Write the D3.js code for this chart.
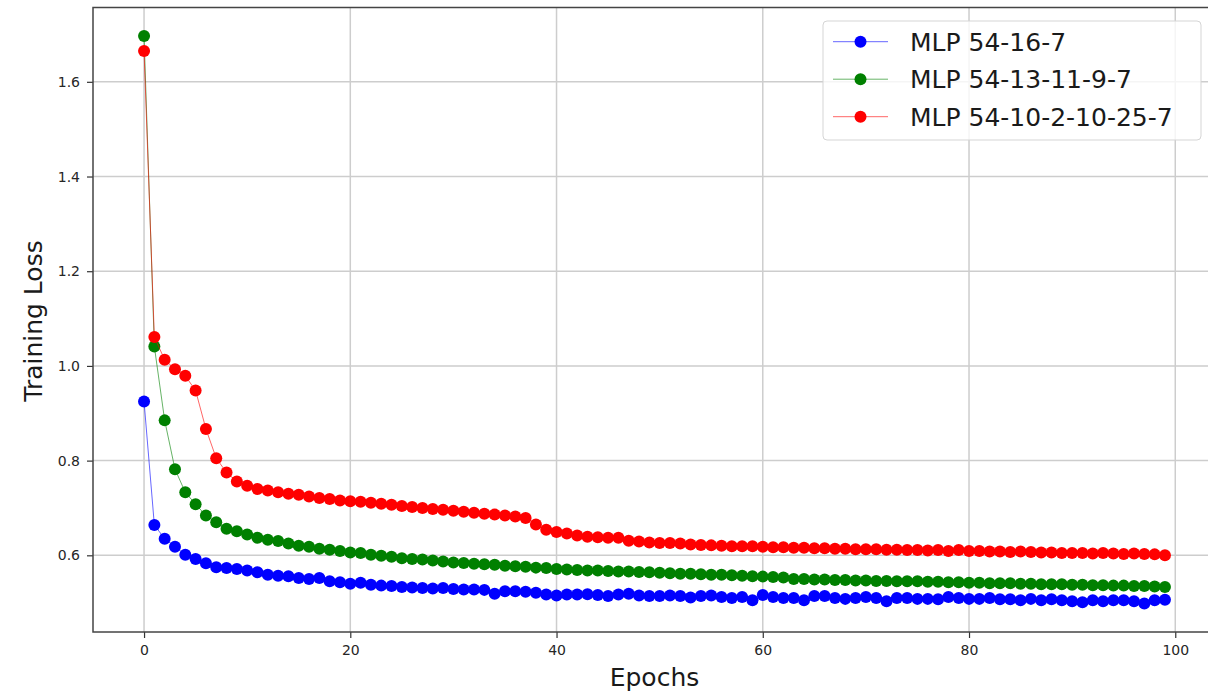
<!DOCTYPE html>
<html>
<head>
<meta charset="utf-8">
<script src="https://cdnjs.cloudflare.com/ajax/libs/d3/7.8.5/d3.min.js"></script>
<style>
    body { margin: 0; background: #fff; }
    svg { display: block; font-family: "DejaVu Sans", sans-serif; }
</style>
</head>
<body>
<div id="chart"></div>
<script>
// series names and colours
var seriesNames = ["MLP 54-16-7", "MLP 54-13-11-9-7", "MLP 54-10-2-10-25-7"];
var seriesColors = ["#0000ff", "#008000", "#ff0000"];

// training loss per epoch (0..99)
var lossSmall = [
    0.925, 0.664, 0.635, 0.618, 0.601, 0.592, 0.583, 0.575, 0.573, 0.571,
    0.568, 0.564, 0.559, 0.557, 0.556, 0.552, 0.550, 0.552, 0.545, 0.543,
    0.540, 0.542, 0.538, 0.536, 0.535, 0.533, 0.532, 0.531, 0.530, 0.531,
    0.529, 0.528, 0.528, 0.527, 0.519, 0.524, 0.524, 0.523, 0.521, 0.517,
    0.515, 0.517, 0.517, 0.518, 0.516, 0.514, 0.517, 0.519, 0.515, 0.514,
    0.514, 0.515, 0.514, 0.511, 0.514, 0.515, 0.512, 0.510, 0.512, 0.505,
    0.516, 0.512, 0.510, 0.510, 0.505, 0.514, 0.514, 0.510, 0.508, 0.510,
    0.512, 0.510, 0.503, 0.510, 0.510, 0.508, 0.508, 0.507, 0.512, 0.510,
    0.508, 0.508, 0.510, 0.507, 0.507, 0.505, 0.508, 0.505, 0.507, 0.505,
    0.503, 0.501, 0.505, 0.503, 0.505, 0.505, 0.503, 0.498, 0.505, 0.506
];
var lossMid = [
    1.697, 1.041, 0.885, 0.782, 0.733, 0.708, 0.684, 0.670, 0.656, 0.651,
    0.644, 0.637, 0.633, 0.630, 0.625, 0.620, 0.618, 0.614, 0.612, 0.609,
    0.606, 0.605, 0.601, 0.599, 0.597, 0.594, 0.592, 0.591, 0.589, 0.587,
    0.585, 0.584, 0.582, 0.581, 0.580, 0.578, 0.577, 0.576, 0.574, 0.573,
    0.571, 0.570, 0.569, 0.568, 0.568, 0.567, 0.566, 0.566, 0.565, 0.564,
    0.563, 0.562, 0.561, 0.561, 0.560, 0.559, 0.559, 0.558, 0.557, 0.556,
    0.555, 0.554, 0.553, 0.550, 0.550, 0.549, 0.549, 0.548, 0.548, 0.547,
    0.547, 0.546, 0.546, 0.545, 0.545, 0.545, 0.544, 0.544, 0.543, 0.543,
    0.542, 0.542, 0.541, 0.541, 0.541, 0.540, 0.540, 0.539, 0.539, 0.539,
    0.538, 0.538, 0.537, 0.537, 0.536, 0.536, 0.535, 0.535, 0.534, 0.533
];
var lossDeep = [
    1.665, 1.061, 1.013, 0.993, 0.979, 0.948, 0.867, 0.805, 0.775, 0.756,
    0.747, 0.740, 0.737, 0.733, 0.730, 0.728, 0.724, 0.721, 0.719, 0.716,
    0.714, 0.713, 0.711, 0.709, 0.707, 0.704, 0.702, 0.700, 0.698, 0.696,
    0.694, 0.692, 0.690, 0.688, 0.686, 0.684, 0.682, 0.679, 0.665, 0.654,
    0.649, 0.646, 0.642, 0.639, 0.638, 0.637, 0.637, 0.631, 0.629, 0.627,
    0.626, 0.626, 0.625, 0.623, 0.622, 0.621, 0.620, 0.619, 0.619, 0.619,
    0.618, 0.617, 0.617, 0.616, 0.616, 0.615, 0.615, 0.614, 0.614, 0.613,
    0.613, 0.613, 0.612, 0.612, 0.611, 0.611, 0.610, 0.611, 0.609, 0.611,
    0.609, 0.609, 0.608, 0.608, 0.607, 0.608, 0.607, 0.606, 0.606, 0.605,
    0.605, 0.605, 0.604, 0.605, 0.604, 0.603, 0.604, 0.603, 0.602, 0.600
];

var xTicks = [0, 20, 40, 60, 80, 100];
var yTicks = [0.6, 0.8, 1.0, 1.2, 1.4, 1.6];

(function() {
    'use strict';

    var width = 1208, height = 692;
    var left = 93, right = 1216, top = 7.5, bottom = 632;

    var allSeries = [lossSmall, lossMid, lossDeep];
    var epochs = d3.range(lossSmall.length);

    // matplotlib style 5% margins
    var xMin = 0, xMax = epochs.length - 1;
    var xPad = (xMax - xMin) * 0.05;
    var yMin = d3.min(allSeries, function(s) { return d3.min(s); });
    var yMax = d3.max(allSeries, function(s) { return d3.max(s); });
    var yPad = (yMax - yMin) * 0.05;

    var x = d3.scaleLinear().domain([xMin - xPad, xMax + xPad]).range([left, right]);
    var y = d3.scaleLinear().domain([yMin - yPad, yMax + yPad]).range([bottom, top]);

    var svg = d3.select("#chart")
        .append("svg")
        .attr("width", width)
        .attr("height", height);

    // grid
    var grid = svg.append("g").attr("class", "grid");
    grid.selectAll("line.vx")
        .data(xTicks).enter()
        .append("line")
        .attr("x1", function(d) { return x(d); })
        .attr("x2", function(d) { return x(d); })
        .attr("y1", top)
        .attr("y2", bottom)
        .attr("stroke", "#cdcdcd")
        .attr("stroke-width", 1.5);
    grid.selectAll("line.hy")
        .data(yTicks).enter()
        .append("line")
        .attr("x1", left)
        .attr("x2", right)
        .attr("y1", function(d) { return y(d); })
        .attr("y2", function(d) { return y(d); })
        .attr("stroke", "#cdcdcd")
        .attr("stroke-width", 1.5);

    // axes
    var xAxis = d3.axisBottom(x).tickValues(xTicks).tickSize(6).tickPadding(7)
        .tickFormat(d3.format("d"));
    var yAxis = d3.axisLeft(y).tickValues(yTicks).tickSize(6).tickPadding(7)
        .tickFormat(d3.format(".1f"));

    var gx = svg.append("g").attr("transform", "translate(0," + bottom + ")").call(xAxis);
    var gy = svg.append("g").attr("transform", "translate(" + left + ",0)").call(yAxis);
    [gx, gy].forEach(function(g) {
        g.select(".domain").remove();
        g.selectAll(".tick line").attr("stroke", "#333").attr("stroke-width", 1.2);
        g.selectAll(".tick text")
            .attr("fill", "#262626")
            .style("font-size", "14px")
            .style("font-family", "DejaVu Sans");
    });

    // data lines + markers
    var line = d3.line()
        .x(function(d, i) { return x(i); })
        .y(function(d) { return y(d); });

    allSeries.forEach(function(series, k) {
        svg.append("path")
            .datum(series)
            .attr("d", line)
            .attr("fill", "none")
            .attr("stroke", seriesColors[k])
            .attr("stroke-opacity", 0.6)
            .attr("stroke-width", 1);
        svg.append("g")
            .selectAll("circle")
            .data(series).enter()
            .append("circle")
            .attr("cx", function(d, i) { return x(i); })
            .attr("cy", function(d) { return y(d); })
            .attr("r", 6)
            .attr("fill", seriesColors[k]);
    });

    // spines
    svg.append("rect")
        .attr("x", left)
        .attr("y", top)
        .attr("width", right - left)
        .attr("height", bottom - top)
        .attr("fill", "none")
        .attr("stroke", "#444")
        .attr("stroke-width", 1.5);

    // axis labels
    svg.append("text")
        .attr("x", (left + 1208) / 2 + 4)
        .attr("y", 686)
        .attr("text-anchor", "middle")
        .attr("fill", "#1a1a1a")
        .style("font-size", "25px")
        .text("Epochs");

    svg.append("text")
        .attr("transform", "translate(42,321) rotate(-90)")
        .attr("text-anchor", "middle")
        .attr("fill", "#1a1a1a")
        .style("font-size", "25px")
        .text("Training Loss");

    // legend
    var legend = svg.append("g").attr("class", "legend");
    legend.append("rect")
        .attr("x", 823)
        .attr("y", 21)
        .attr("width", 378)
        .attr("height", 119)
        .attr("rx", 4)
        .attr("fill", "#fff")
        .attr("fill-opacity", 0.8)
        .attr("stroke", "#d5d5d5")
        .attr("stroke-width", 1);

    var rows = legend.selectAll("g.row")
        .data(seriesNames).enter()
        .append("g")
        .attr("transform", function(d, i) { return "translate(0," + (41.7 + i * 37.5) + ")"; });
    rows.append("line")
        .attr("x1", 833).attr("x2", 888)
        .attr("y1", 0).attr("y2", 0)
        .attr("stroke", function(d, i) { return seriesColors[i]; })
        .attr("stroke-opacity", 0.6)
        .attr("stroke-width", 1);
    rows.append("circle")
        .attr("cx", 860.5).attr("cy", 0).attr("r", 6)
        .attr("fill", function(d, i) { return seriesColors[i]; });
    rows.append("text")
        .attr("x", 910)
        .attr("y", 0)
        .attr("dy", "0.36em")
        .attr("fill", "#1a1a1a")
        .style("font-size", "25px")
        .text(function(d) { return d; });
})();
</script>
</body>
</html>
